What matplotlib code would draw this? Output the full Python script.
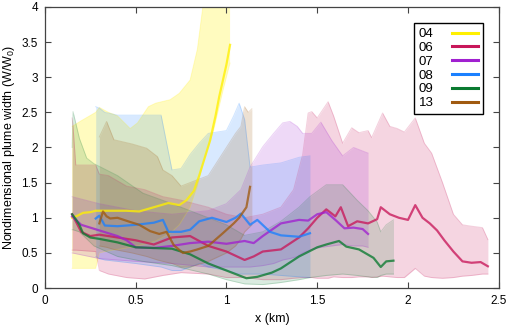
import numpy as np
import matplotlib
matplotlib.use("Agg")
import matplotlib.pyplot as plt

plt.rcParams['font.family'] = ['Liberation Sans', 'DejaVu Sans']
plt.rcParams['mathtext.fontset'] = 'custom'
plt.rcParams['mathtext.rm'] = 'Liberation Sans'
plt.rcParams['mathtext.it'] = 'Liberation Sans'

labels = ['04', '06', '07', '08', '09', '13']
colors = ['#fff000', '#c8175a', '#a020d0', '#1a80ff', '#0a7a30', '#a05a10']

# mean widths
x04 = [0.15, 0.18, 0.21, 0.25, 0.28, 0.35, 0.45, 0.52, 0.6, 0.68, 0.74, 0.78, 0.82, 0.85, 0.88, 0.91, 0.94, 0.96, 0.98, 1.0, 1.02]
y04 = [1.0, 1.03, 1.07, 1.08, 1.1, 1.1, 1.1, 1.09, 1.15, 1.21, 1.18, 1.25, 1.38, 1.6, 1.85, 2.1, 2.45, 2.72, 2.95, 3.18, 3.46]

x06 = [0.15, 0.17, 0.2, 0.25, 0.3, 0.4, 0.5, 0.6, 0.7, 0.8, 0.9, 1.0, 1.1, 1.15, 1.2, 1.3, 1.4, 1.45, 1.5, 1.55,
       1.6, 1.63, 1.67, 1.72, 1.78, 1.83, 1.85, 1.9, 1.95, 2.0, 2.04, 2.08, 2.12, 2.16, 2.2, 2.25, 2.3, 2.35, 2.4, 2.44]
y06 = [1.05, 0.95, 0.8, 0.74, 0.76, 0.72, 0.68, 0.62, 0.72, 0.74, 0.6, 0.52, 0.40, 0.45, 0.52, 0.55, 0.72, 0.85, 1.0, 1.12,
       1.02, 1.15, 0.88, 0.95, 0.92, 0.98, 1.15, 1.05, 1.0, 0.97, 1.18, 1.0, 0.92, 0.82, 0.68, 0.52, 0.38, 0.36, 0.37, 0.31]

x07 = [0.15, 0.2, 0.3, 0.4, 0.45, 0.5, 0.6, 0.7, 0.8, 0.9, 1.0, 1.1, 1.15, 1.2, 1.3, 1.4, 1.45, 1.5, 1.55, 1.6, 1.65, 1.7, 1.75, 1.78]
y07 = [1.02, 0.9, 0.82, 0.74, 0.68, 0.58, 0.57, 0.6, 0.64, 0.66, 0.63, 0.67, 0.64, 0.74, 0.92, 0.97, 0.96, 1.05, 1.08, 0.97, 0.85, 0.86, 0.84, 0.77]

x08 = [0.28, 0.3, 0.33, 0.4, 0.5, 0.6, 0.65, 0.68, 0.75, 0.8, 0.85, 0.92, 1.0, 1.05, 1.08, 1.13, 1.17, 1.24, 1.3, 1.4, 1.46]
y08 = [0.99, 1.03, 0.89, 0.88, 0.9, 0.93, 0.97, 0.8, 0.8, 0.83, 0.95, 1.0, 0.94, 1.0, 1.06, 0.9, 0.97, 0.8, 0.75, 0.73, 0.78]

x09 = [0.15, 0.17, 0.19, 0.21, 0.25, 0.3, 0.4, 0.5, 0.6, 0.7, 0.8, 0.9, 1.0, 1.05, 1.11, 1.17, 1.25, 1.3, 1.4, 1.5,
       1.55, 1.62, 1.66, 1.73, 1.81, 1.85, 1.88, 1.92]
y09 = [1.05, 0.98, 0.9, 0.78, 0.72, 0.7, 0.65, 0.58, 0.57, 0.56, 0.48, 0.35, 0.25, 0.2, 0.14, 0.16, 0.22, 0.28, 0.45, 0.58,
       0.62, 0.67, 0.59, 0.55, 0.43, 0.3, 0.38, 0.39]

x13 = [0.30, 0.32, 0.34, 0.36, 0.4, 0.47, 0.52, 0.58, 0.63, 0.67, 0.71, 0.76, 0.8, 0.84, 0.9, 0.98, 1.04, 1.07, 1.11, 1.13]
y13 = [0.92, 1.09, 1.02, 0.99, 1.0, 0.94, 0.9, 0.81, 0.77, 0.8, 0.61, 0.5, 0.52, 0.55, 0.6, 0.78, 0.92, 1.0, 1.15, 1.44]

# spread (shaded bands)
xb04 = [0.15, 0.2, 0.28, 0.3, 0.35, 0.4, 0.47, 0.51, 0.57, 0.61, 0.69, 0.74, 0.8, 0.84, 0.87, 0.93, 0.98, 1.02]
hi04 = [2.3, 2.38, 2.5, 2.57, 2.5, 2.45, 2.27, 2.35, 2.58, 2.63, 2.68, 2.77, 2.96, 3.4, 4.0, 4.6, 5.0, 5.2]
lo04 = [0.28, 0.28, 0.28, 0.5, 0.53, 0.55, 0.58, 0.6, 0.64, 0.67, 0.78, 0.9, 1.15, 1.45, 1.75, 2.25, 2.8, 3.2]

xb06 = [0.15, 0.155, 0.17, 0.28, 0.3, 0.35, 0.45, 0.55, 0.65, 0.75, 0.9, 1.0, 1.1, 1.2, 1.3, 1.37, 1.42, 1.45, 1.47, 1.5,
        1.56, 1.59, 1.64, 1.69, 1.73, 1.78, 1.8, 1.86, 1.9, 1.94, 1.98, 2.04, 2.09, 2.13, 2.19, 2.25, 2.3, 2.35, 2.41, 2.44]
hi06 = [2.42, 2.3, 1.75, 1.75, 1.62, 1.6, 1.45, 1.4, 1.3, 1.25, 1.15, 1.05, 1.0, 1.05, 1.15, 1.4, 1.9, 2.49, 2.51, 2.42,
        2.65, 2.45, 2.06, 2.28, 2.21, 2.24, 2.14, 2.49, 2.3, 2.27, 2.22, 2.42, 2.06, 1.92, 1.5, 1.05, 0.9, 0.88, 0.86, 0.69]
lo06 = [0.54, 0.54, 0.54, 0.52, 0.25, 0.2, 0.15, 0.13, 0.18, 0.22, 0.2, 0.15, 0.15, 0.12, 0.12, 0.14, 0.15, 0.15, 0.15, 0.14,
        0.14, 0.16, 0.15, 0.15, 0.16, 0.16, 0.15, 0.17, 0.16, 0.15, 0.15, 0.28, 0.17, 0.15, 0.14, 0.15, 0.17, 0.18, 0.2, 0.2]

xb07 = [0.15, 0.3, 0.5, 0.7, 0.9, 1.0, 1.08, 1.13, 1.2, 1.26, 1.31, 1.35, 1.39, 1.42, 1.47, 1.52, 1.58, 1.64, 1.7, 1.75, 1.78]
hi07 = [1.3, 1.2, 1.1, 1.05, 1.1, 1.2, 1.4, 1.72, 2.01, 2.2, 2.35, 2.37, 2.3, 2.2, 2.2, 2.36, 2.1, 1.88, 2.0, 1.95, 1.92]
lo07 = [0.5, 0.42, 0.38, 0.35, 0.3, 0.3, 0.3, 0.3, 0.32, 0.35, 0.4, 0.42, 0.45, 0.5, 0.55, 0.58, 0.6, 0.62, 0.6, 0.6, 0.58]

xb08 = [0.28, 0.3, 0.33, 0.4, 0.5, 0.64, 0.7, 0.75, 0.8, 0.85, 0.9, 1.0, 1.04, 1.07, 1.1, 1.13, 1.2, 1.3, 1.4, 1.46]
hi08 = [2.58, 2.56, 2.5, 2.46, 2.46, 2.46, 1.68, 1.7, 1.9, 2.06, 2.2, 2.24, 2.45, 2.63, 2.4, 1.72, 1.75, 1.78, 1.86, 1.88]
lo08 = [0.45, 0.42, 0.4, 0.38, 0.35, 0.3, 0.25, 0.25, 0.3, 0.35, 0.3, 0.25, 0.22, 0.2, 0.2, 0.2, 0.2, 0.18, 0.16, 0.15]

xb09 = [0.15, 0.155, 0.19, 0.23, 0.27, 0.4, 0.54, 0.7, 0.9, 1.0, 1.1, 1.2, 1.3, 1.4, 1.46, 1.55, 1.64, 1.72, 1.78, 1.83,
        1.85, 1.88, 1.92]
hi09 = [2.0, 2.51, 2.13, 1.85, 1.77, 1.6, 1.35, 1.2, 1.0, 0.9, 0.75, 0.8, 0.95, 1.15, 1.3, 1.47, 1.47, 1.25, 1.1, 0.94,
        0.8, 0.9, 0.97]
lo09 = [0.83, 0.83, 0.8, 0.7, 0.6, 0.45, 0.38, 0.32, 0.2, 0.12, 0.06, 0.05, 0.08, 0.12, 0.15, 0.18, 0.2, 0.18, 0.16, 0.15,
        0.18, 0.2, 0.2]

xb13 = [0.3, 0.34, 0.38, 0.48, 0.56, 0.62, 0.65, 0.7, 0.75, 0.8, 0.9, 1.0, 1.05, 1.08, 1.1, 1.12, 1.14]
hi13 = [2.15, 2.37, 2.11, 2.05, 1.99, 1.87, 1.68, 1.6, 1.45, 1.5, 1.6, 2.0, 2.2, 2.3, 2.58, 2.5, 2.55]
lo13 = [0.6, 0.58, 0.55, 0.5, 0.45, 0.4, 0.38, 0.35, 0.3, 0.3, 0.38, 0.5, 0.6, 0.7, 0.8, 0.85, 0.9]

lines = [(x04, y04), (x06, y06), (x07, y07), (x08, y08), (x09, y09), (x13, y13)]
bands = [(xb04, lo04, hi04), (xb06, lo06, hi06), (xb07, lo07, hi07),
         (xb08, lo08, hi08), (xb09, lo09, hi09), (xb13, lo13, hi13)]
band_alpha = [0.25, 0.18, 0.17, 0.17, 0.15, 0.18]

fig = plt.figure(figsize=(5.1, 3.27), dpi=100)
ax = fig.add_axes([0.088, 0.119, 0.89, 0.86])

# shaded spread first, then the mean lines on top
for (xb, lo, hi), c, a in zip(bands, colors, band_alpha):
    ax.fill_between(xb, lo, hi, color=c, alpha=a, linewidth=0)
    ax.plot(xb, hi, color=c, alpha=0.2, lw=0.7)
    ax.plot(xb, lo, color=c, alpha=0.2, lw=0.7)

handles = []
for (x, y), c, lab in zip(lines, colors, labels):
    ax.plot(x, y, color=c, lw=1.6, alpha=0.78)
    handles.append(plt.Line2D([], [], color=c, lw=2.2, label=lab))

ax.set_xlim(0, 2.5)
ax.set_ylim(0, 4)
ax.set_xticks(np.arange(0, 2.51, 0.5))
ax.set_yticks(np.arange(0, 4.01, 0.5))
ax.set_xticklabels(['0', '0.5', '1', '1.5', '2', '2.5'])
ax.set_yticklabels(['0', '0.5', '1', '1.5', '2', '2.5', '3', '3.5', '4'])
ax.tick_params(direction='in', top=True, right=True, labelsize=8.5, length=4, width=0.8, color='#444444', pad=5)
for s in ax.spines.values():
    s.set_color('#444444')
    s.set_linewidth(0.9)

ax.set_xlabel('x (km)', fontsize=9, labelpad=4)
ax.set_ylabel('Nondimensional plume width (W/W$_0$)', fontsize=9, labelpad=3)

leg = ax.legend(handles=handles, loc='upper right', bbox_to_anchor=(0.98, 0.965), markerfirst=False,
                fontsize=9.5, frameon=True, fancybox=False, framealpha=1, edgecolor='black',
                handlelength=2.0, labelspacing=0.12, borderpad=0.35, handletextpad=1.4)
leg.get_frame().set_linewidth(1.0)

fig.savefig('out.png', dpi=100)
